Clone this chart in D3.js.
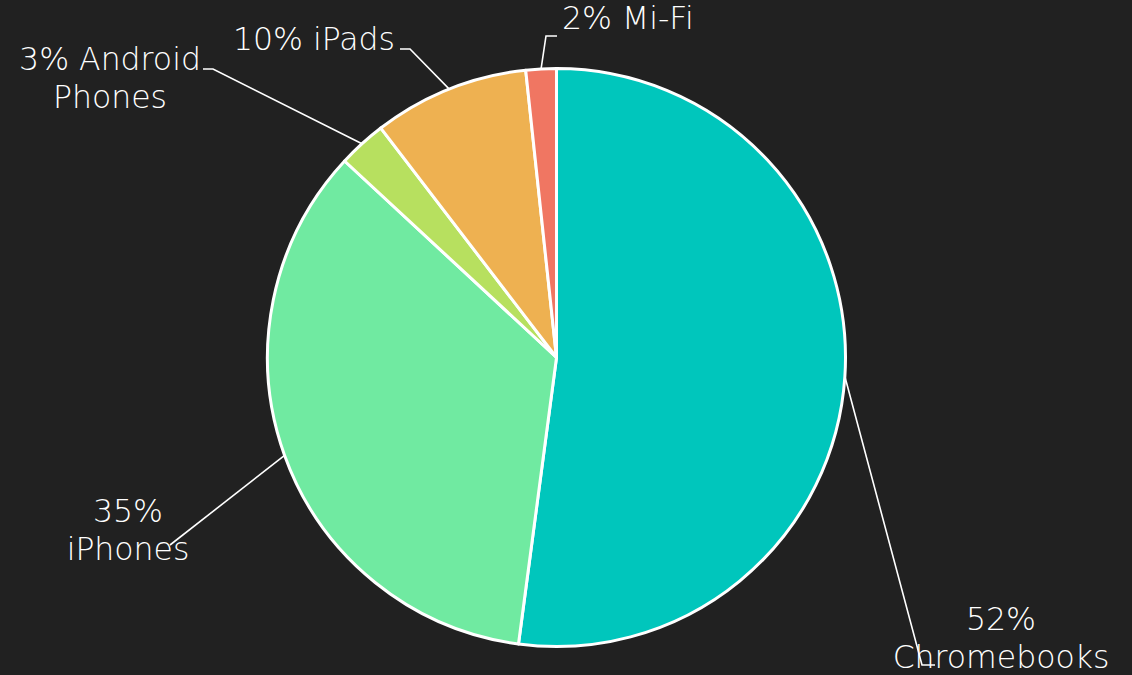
<!DOCTYPE html>
<html><head><meta charset="utf-8">
<script src="https://cdn.jsdelivr.net/npm/d3@7"></script>
<style>
html,body{margin:0;padding:0;background:#212121;}
svg{display:block;}
text{font-family:"DejaVu Sans","Lato",sans-serif;font-weight:200;fill:#ffffff;}
</style></head><body>
<svg id="chart" width="1132" height="675"></svg>
<script>
// Data
const categories = ["Chromebooks", "iPhones", "Android Phones", "iPads", "Mi-Fi"];
const values = [52.1, 34.8, 2.7, 8.7, 1.7];
const labelLines = [["52%", "Chromebooks"], ["35%", "iPhones"], ["3% Android", "Phones"], ["10% iPads"], ["2% Mi-Fi"]];
const colors = ["#00C6BC", "#70EAA1", "#B7E05F", "#EEB151", "#F07662"];

// Layout (label anchor, elbow, line end)
const layout = [
  {tx: 1001, ty: 630, anchor: "middle", elbow: [922, 665], end: [935, 665]},
  {tx: 128, ty: 522, anchor: "middle", elbow: [170, 545], end: [170, 545]},
  {tx: 110, ty: 70, anchor: "middle", elbow: [213, 69], end: [203, 69]},
  {tx: 395, ty: 50, anchor: "end", elbow: [410, 49], end: [400, 49]},
  {tx: 562, ty: 29, anchor: "start", elbow: [546, 36], end: [557, 36]}
];

const svg = d3.select("#chart");
const cx = 556.5, cy = 357.5, R = 289;
const data = categories.map((c, i) => ({name: c, value: values[i], color: colors[i], lines: labelLines[i], lay: layout[i]}));
const pie = d3.pie().value(d => d.value).sort(null);
const arcs = pie(data);
const arc = d3.arc().innerRadius(0).outerRadius(R);
const edgeArc = d3.arc().innerRadius(R).outerRadius(R);

const g = svg.append("g").attr("transform", `translate(${cx},${cy})`);
g.selectAll("path.slice").data(arcs).join("path")
  .attr("class", "slice")
  .attr("d", arc)
  .attr("fill", d => d.data.color)
  .attr("stroke", "#ffffff")
  .attr("stroke-width", 3)
  .attr("stroke-linejoin", "round");

// leader lines
svg.selectAll("polyline.leader").data(arcs).join("polyline")
  .attr("class", "leader")
  .attr("fill", "none")
  .attr("stroke", "#ffffff")
  .attr("stroke-width", 1.6)
  .attr("points", d => {
    const c = edgeArc.centroid(d);
    const p0 = [cx + c[0], cy + c[1]];
    return [p0, d.data.lay.elbow, d.data.lay.end].map(p => p.join(",")).join(" ");
  });

// labels
const lbl = svg.selectAll("text.lbl").data(arcs).join("text")
  .attr("class", "lbl")
  .attr("font-size", 31.5)
  .attr("text-anchor", d => d.data.lay.anchor)
  .attr("x", d => d.data.lay.tx)
  .attr("y", d => d.data.lay.ty);
lbl.selectAll("tspan").data(d => d.data.lines.map(t => ({t, x: d.data.lay.tx}))).join("tspan")
  .attr("x", d => d.x)
  .attr("dy", (d, i) => i === 0 ? 0 : 38)
  .text(d => d.t);
</script>
</body></html>
